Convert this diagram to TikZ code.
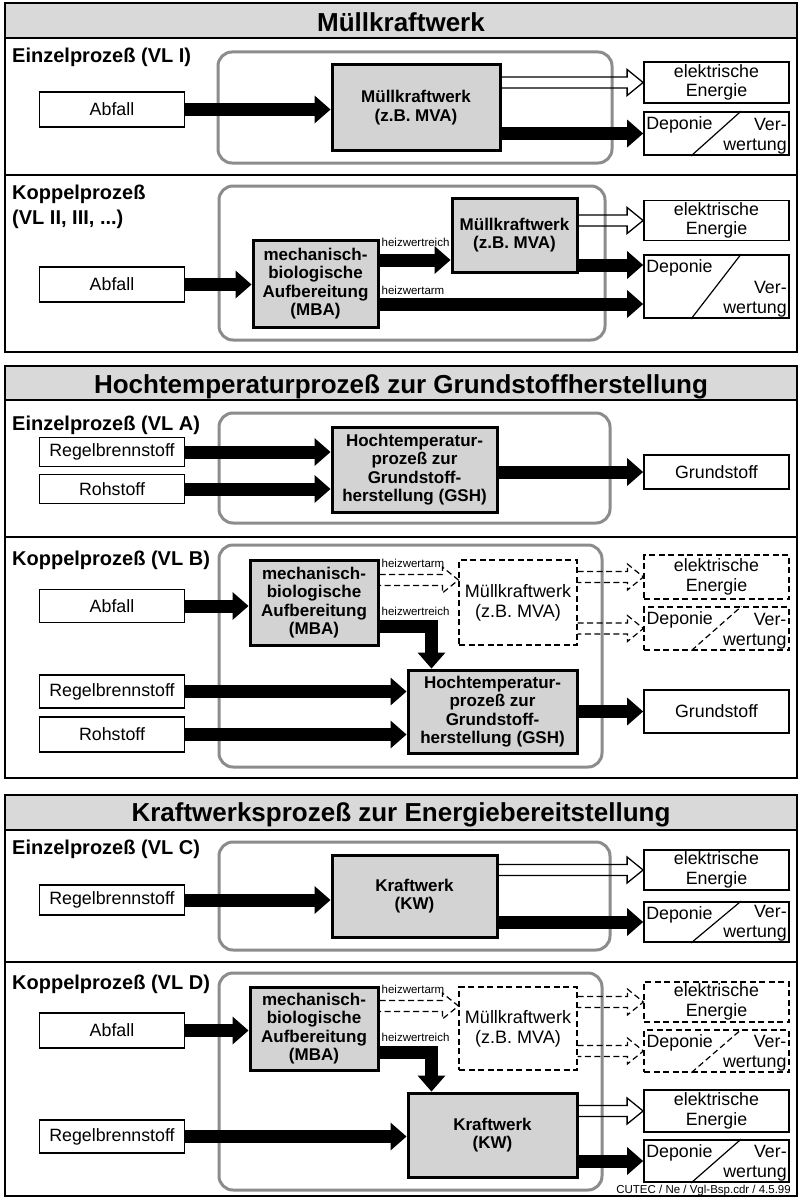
\documentclass[tikz,border=0pt]{standalone}
\usepackage{fontspec}
\setmainfont{Liberation Sans}
\usetikzlibrary{arrows.meta}
\usetikzlibrary{calc}

\definecolor{bandgrau}{HTML}{D9D9D9}
\definecolor{boxgrau}{HTML}{D3D3D3}
\definecolor{rahmengrau}{HTML}{8C8C8C}

\tikzset{
  einbox/.style={draw, line width=1.8pt, fill=white, minimum width=145pt, align=center, inner sep=2pt},
  procbox/.style={draw, line width=3pt, fill=boxgrau, align=center, inner sep=2pt, font=\fontsize{17pt}{18.5pt}\selectfont\bfseries},
  mkwbox/.style={draw, fill=white, align=center, inner sep=2pt, font=\fontsize{18pt}{20pt}\selectfont},
  strichliert/.style={dash pattern=on 6pt off 3.5pt, line width=1.2pt},
  fat/.style={line width=13pt, -{Triangle[length=16pt, width=28pt, line width=0pt]}},
  rahmen/.style={draw=rahmengrau, line width=3pt, rounded corners=14pt},
  band/.style={draw, line width=1.8pt, fill=bandgrau},
  sektion/.style={draw, line width=2pt},
  trenn/.style={line width=1.8pt},
  titel/.style={anchor=base, inner sep=0pt, font=\fontsize{26pt}{28pt}\selectfont\bfseries},
  kopf/.style={anchor=base west, inner sep=0pt, font=\fontsize{20pt}{22pt}\selectfont\bfseries},
  klein/.style={anchor=base west, inner sep=0pt, font=\fontsize{11.5pt}{13pt}\selectfont},
  lbl/.style={inner sep=0pt}
}

% hohler Pfeil (waagrecht)
\newcommand{\hohlpfeil}[3][]{%
  \draw[line width=1.3pt, #1] ($(#2)+(0,-5.5)$) -- ($(#3)+(-16,-5.5)$) -- ($(#3)+(-16,-13)$) -- (#3)
    -- ($(#3)+(-16,13)$) -- ($(#3)+(-16,5.5)$) -- ($(#2)+(0,5.5)$);}

% Kasten Deponie / Verwertung
\newcommand{\deponie}[4][]{%
  \node[einbox, #1, minimum height=#4] (#2) at (#3) {};
  \draw[line width=1.2pt, #1] ($(#2.south west)+(48,0)$) -- ($(#2.north west)+(98,0)$);
  \node[lbl, anchor=base west] (#2d) at ($(#2.north west)+(3,18)$) {Deponie};
  \node[lbl, anchor=base east] (#2v) at ($(#2.south east)+(-3,-25)$) {Ver-};
  \node[lbl, anchor=base east] (#2w) at ($(#2.south east)+(-3,-5)$) {wertung};}

\begin{document}
\begin{tikzpicture}[x=1pt, y=-1pt, font=\fontsize{17.8pt}{19.5pt}\selectfont]
  \useasboundingbox[fill=white] (0,0) rectangle (801,1199);

  % Muellkraftwerk
  \draw[band] (5,3) rectangle (797,38);
  \node[titel] (t1) at (401,32) {Müllkraftwerk};
  \draw[sektion] (5,3) rectangle (797,352);
  \draw[trenn] (5,175) -- (797,175);

  \node[kopf] (k1) at (12,63) {Einzelprozeß (VL I)};
  \draw[rahmen] (218,52) rectangle (612,163);
  \node[einbox, minimum height=35pt] (abf1) at (112,109.5) {Abfall};
  \node[procbox, minimum width=168pt, minimum height=85pt] (mkw1) at (416,107.5) {Müllkraftwerk\\(z.B. MVA)};
  \node[einbox, minimum height=41pt] (ee1) at (716.5,82.5) {elektrische\\Energie};
  \deponie{dep1}{716.5,133.5}{43pt}
  \draw[fat] (abf1.east) -- (abf1.east -| mkw1.west);
  \hohlpfeil{mkw1.east |- ee1.west}{ee1.west}
  \draw[fat] (mkw1.east |- dep1.west) -- (dep1.west);

  \node[kopf] (k2) at (12,199) {Koppelprozeß};
  \node[kopf] (k2b) at (12,224) {(VL II, III, ...)};
  \draw[rahmen] (219,186) rectangle (605,340);
  \node[einbox, minimum height=35pt] (abf2) at (112,284.5) {Abfall};
  \node[procbox, minimum width=125pt, minimum height=87pt] (mba2) at (315.5,283.5) {mechanisch-\\biologische\\Aufbereitung\\(MBA)};
  \node[procbox, minimum width=125pt, minimum height=74pt] (mkw2) at (514.5,235) {Müllkraftwerk\\(z.B. MVA)};
  \node[einbox, minimum height=35pt] (ee2) at (716.5,220.5) {elektrische\\Energie};
  \deponie{dep2}{716.5,286.5}{63pt}
  \draw[fat] (abf2.east) -- (abf2.east -| mba2.west);
  \coordinate (hr2) at ([yshift=23.5pt]mba2.east);
  \draw[fat] (hr2) -- (hr2 -| mkw2.west);
  \node[klein] (lr2) at ($(hr2)+(2,-14)$) {heizwertreich};
  \coordinate (ha2) at ([yshift=-20.5pt]mba2.east);
  \draw[fat] (ha2) -- (ha2 -| dep2.west);
  \node[klein] (la2) at ($(ha2)+(2,-10)$) {heizwertarm};
  \coordinate (m2) at ([yshift=-30pt]mkw2.east);
  \draw[fat] (m2) -- (m2 -| dep2.west);
  \hohlpfeil{mkw2.east |- ee2.west}{ee2.west}

  % Hochtemperaturprozess
  \draw[band] (5,366) rectangle (797,400);
  \node[titel] (t2) at (401,393) {Hochtemperaturprozeß zur Grundstoffherstellung};
  \draw[sektion] (5,366) rectangle (797,778);
  \draw[trenn] (5,537) -- (797,537);

  \node[kopf] (k3) at (12,430) {Einzelprozeß (VL A)};
  \draw[rahmen] (219,413) rectangle (610,523);
  \node[einbox, minimum height=29pt] (reg3) at (112,452) {Regelbrennstoff};
  \node[einbox, minimum height=29pt] (roh3) at (112,489) {Rohstoff};
  \node[procbox, minimum width=165pt, minimum height=85pt] (gsh3) at (414.5,469.5) {Hochtemperatur-\\prozeß zur\\Grundstoff-\\herstellung (GSH)};
  \node[einbox, minimum height=34pt] (gst3) at (716.5,472) {Grundstoff};
  \draw[fat] (reg3.east) -- (reg3.east -| gsh3.west);
  \draw[fat] (roh3.east) -- (roh3.east -| gsh3.west);
  \draw[fat] (gsh3.east |- gst3.west) -- (gst3.west);

  \node[kopf] (k4) at (12,565) {Koppelprozeß (VL B)};
  \draw[rahmen] (219,545) rectangle (602,767);
  \node[einbox, minimum height=33pt] (abf4) at (112,606) {Abfall};
  \node[procbox, minimum width=128pt, minimum height=85pt] (mba4) at (314,602.5) {mechanisch-\\biologische\\Aufbereitung\\(MBA)};
  \node[mkwbox, strichliert, minimum width=118pt, minimum height=85pt] (mkw4) at (518,602.5) {Müllkraftwerk\\(z.B. MVA)};
  \node[einbox, strichliert, minimum height=44pt] (ee4) at (716.5,577) {elektrische\\Energie};
  \deponie[strichliert]{dep4}{716.5,628.5}{43pt}
  \node[procbox, minimum width=169pt, minimum height=83pt] (gsh4) at (492.5,711.5) {Hochtemperatur-\\prozeß zur\\Grundstoff-\\herstellung (GSH)};
  \node[einbox, minimum height=33pt] (reg4) at (112,691.5) {Regelbrennstoff};
  \node[einbox, minimum height=35pt] (roh4) at (112,734.5) {Rohstoff};
  \node[einbox, minimum height=43pt] (gst4) at (716.5,711.5) {Grundstoff};
  \draw[fat] (abf4.east) -- (abf4.east -| mba4.west);
  \coordinate (ha4) at ([yshift=22.5pt]mba4.east);
  \hohlpfeil[strichliert]{ha4}{ha4 -| mkw4.west}
  \node[klein] (la4) at ($(ha4)+(2,-13)$) {heizwertarm};
  \coordinate (hr4) at ([yshift=-23.5pt]mba4.east);
  \coordinate (dn4) at ([xshift=25pt]gsh4.north west);
  \draw[fat] (hr4) -| (dn4);
  \node[klein] (lr4) at ($(hr4)+(2,-11)$) {heizwertreich};
  \hohlpfeil[strichliert]{mkw4.east |- ee4.west}{ee4.west}
  \hohlpfeil[strichliert]{mkw4.east |- dep4.west}{dep4.west}
  \draw[fat] (reg4.east) -- (reg4.east -| gsh4.west);
  \draw[fat] (roh4.east) -- (roh4.east -| gsh4.west);
  \draw[fat] (gsh4.east |- gst4.west) -- (gst4.west);

  % Kraftwerksprozess
  \draw[band] (5,795) rectangle (797,830);
  \node[titel] (t3) at (401,821) {Kraftwerksprozeß zur Energiebereitstellung};
  \draw[sektion] (5,795) rectangle (797,1196);
  \draw[trenn] (5,962) -- (797,962);

  \node[kopf] (k5) at (12,854) {Einzelprozeß (VL C)};
  \draw[rahmen] (219,842) rectangle (610,950);
  \node[einbox, minimum height=30pt] (reg5) at (112,900) {Regelbrennstoff};
  \node[procbox, minimum width=165pt, minimum height=82pt] (kw5) at (414.5,896) {Kraftwerk\\(KW)};
  \node[einbox, minimum height=40pt] (ee5) at (716.5,870) {elektrische\\Energie};
  \deponie{dep5}{716.5,922}{40pt}
  \draw[fat] (reg5.east) -- (reg5.east -| kw5.west);
  \hohlpfeil{kw5.east |- ee5.west}{ee5.west}
  \draw[fat] (kw5.east |- dep5.west) -- (dep5.west);

  \node[kopf] (k6) at (12,989) {Koppelprozeß (VL D)};
  \draw[rahmen] (219,973) rectangle (602,1190);
  \node[einbox, minimum height=35pt] (abf6) at (112,1030.5) {Abfall};
  \node[procbox, minimum width=128pt, minimum height=83pt] (mba6) at (314,1028.5) {mechanisch-\\biologische\\Aufbereitung\\(MBA)};
  \node[mkwbox, strichliert, minimum width=118pt, minimum height=83pt] (mkw6) at (518,1028.5) {Müllkraftwerk\\(z.B. MVA)};
  \node[einbox, strichliert, minimum height=40pt] (ee6) at (716.5,1002) {elektrische\\Energie};
  \deponie[strichliert]{dep6}{716.5,1051}{42pt}
  \node[procbox, minimum width=169pt, minimum height=84pt] (kw6) at (492.5,1135) {Kraftwerk\\(KW)};
  \node[einbox, minimum height=33pt] (reg6) at (112,1136.5) {Regelbrennstoff};
  \node[einbox, minimum height=42pt] (ee7) at (716.5,1111) {elektrische\\Energie};
  \deponie{dep7}{716.5,1161}{42pt}
  \draw[fat] (abf6.east) -- (abf6.east -| mba6.west);
  \coordinate (ha6) at ([yshift=22.5pt]mba6.east);
  \hohlpfeil[strichliert]{ha6}{ha6 -| mkw6.west}
  \node[klein] (la6) at ($(ha6)+(2,-13)$) {heizwertarm};
  \coordinate (hr6) at ([yshift=-23.5pt]mba6.east);
  \coordinate (dn6) at ([xshift=25pt]kw6.north west);
  \draw[fat] (hr6) -| (dn6);
  \node[klein] (lr6) at ($(hr6)+(2,-11)$) {heizwertreich};
  \hohlpfeil[strichliert]{mkw6.east |- ee6.west}{ee6.west}
  \hohlpfeil[strichliert]{mkw6.east |- dep6.west}{dep6.west}
  \draw[fat] (reg6.east) -- (reg6.east -| kw6.west);
  \hohlpfeil{kw6.east |- ee7.west}{ee7.west}
  \draw[fat] (kw6.east |- dep7.west) -- (dep7.west);

  \node[anchor=base east, inner sep=0pt, font=\fontsize{11.5pt}{13pt}\selectfont] (cutec) at (791,1193) {CUTEC / Ne / Vgl-Bsp.cdr / 4.5.99};
\end{tikzpicture}
\end{document}
